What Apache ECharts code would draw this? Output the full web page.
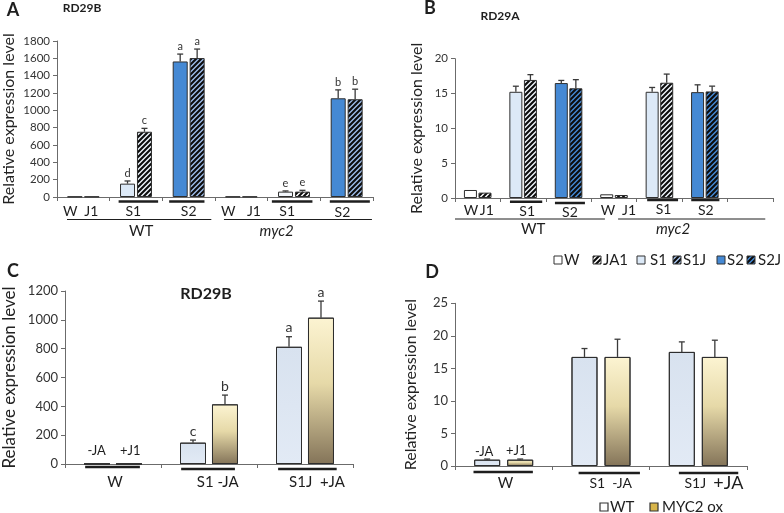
<!DOCTYPE html>
<html><head><meta charset="utf-8">
<script src="https://cdn.jsdelivr.net/npm/echarts@6/dist/echarts.min.js"></script>
<style>html,body{margin:0;padding:0;background:#fff}#c{width:784px;height:513px}</style>
</head><body><div id="c"></div>
<script>
// ---------------- DATA ----------------
// Panel A : RD29B (WT vs myc2)
const catsA = ['WT W/J1', 'WT S1', 'WT S2', 'myc2 W/J1', 'myc2 S1', 'myc2 S2'];
const aPlain = [4, 154, 1564, 4, 62, 1139];
const aPlainErr = [0, 31, 85, 0, 8, 97];
const aJA = [4, 753, 1603, 4, 62, 1128];
const aJAErr = [0, 39, 104, 0, 15, 116];
const aPlainLetters = ['', 'd', 'a', '', 'e', 'b'];
const aJALetters = ['', 'c', 'a', '', 'e', 'b'];
const ticksA = { min: 0, max: 1800, interval: 200 };

// Panel B : RD29A (WT vs myc2)
const catsB = ['WT W/J1', 'WT S1', 'WT S2', 'myc2 W/J1', 'myc2 S1', 'myc2 S2', ''];
const bPlain = [1.15, 15.25, 16.5, 0.53, 15.25, 15.2, null];
const bPlainErr = [0, 0.8, 0.38, 0, 0.62, 1.05, 0];
const bJA = [0.77, 16.95, 15.75, 0.43, 16.55, 15.3, null];
const bJAErr = [0, 0.76, 1.24, 0, 1.24, 0.76, 0];
const ticksB = { min: 0, max: 20, interval: 5 };
const legendB = ['W', 'JA1', 'S1', 'S1J', 'S2', 'S2J'];

// Panel C : RD29B (WT vs MYC2 ox)
const catsC = ['W', 'S1 -JA', 'S1J +JA'];
const cWT = [1, 148, 813];
const cWTErr = [0, 18, 70];
const cMYC = [1, 414, 1015];
const cMYCErr = [0, 64, 115];
const cWTLetters = ['', 'c', 'a'];
const cMYCLetters = ['', 'b', 'a'];
const ticksC = { min: 0, max: 1200, interval: 200 };

// Panel D : RD29A (WT vs MYC2 ox)
const catsD = ['W', 'S1 -JA', 'S1J +JA'];
const dWT = [0.97, 16.76, 17.53];
const dWTErr = [0.1, 1.29, 1.54];
const dMYC = [0.97, 16.76, 16.76];
const dMYCErr = [0.1, 2.72, 2.57];
const ticksD = { min: 0, max: 25, interval: 5 };
const legendD = ['WT', 'MYC2 ox'];

// ---------------- STYLE ----------------
const FONT = 'Lato, "Liberation Sans", sans-serif';
function hatch(bg) {
  const c = document.createElement('canvas'); c.width = c.height = 5;
  const g = c.getContext('2d');
  g.fillStyle = bg; g.fillRect(0, 0, 5, 5);
  g.strokeStyle = '#0c0c0c'; g.lineWidth = 2.1; g.beginPath();
  g.moveTo(-1, 6); g.lineTo(6, -1);
  g.moveTo(-1, 1); g.lineTo(1, -1);
  g.moveTo(4, 6); g.lineTo(6, 4);
  g.stroke();
  return { image: c, repeat: 'repeat' };
}
const WHITE = '#ffffff', LBLUE = '#dce9f7', BLUE = '#4589d4';
const gold = { type: 'linear', x: 0, y: 0, x2: 0, y2: 1, colorStops: [
  { offset: 0, color: '#fcf4d2' }, { offset: 0.45, color: '#e6d9a8' }, { offset: 1, color: '#847459' }] };
const wtFill = { type: 'linear', x: 0, y: 0, x2: 0, y2: 1, colorStops: [
  { offset: 0, color: '#d8e2ef' }, { offset: 1, color: '#e2eaf5' }] };
const fillA0 = [WHITE, LBLUE, BLUE, WHITE, '#f3f7fc', BLUE];
const fillA1 = [hatch('#fff'), hatch('#eef4fb'), hatch('#9dbce9'), hatch('#fff'), hatch('#fff'), hatch('#9dbce9')];
const fillB0 = [WHITE, LBLUE, BLUE, WHITE, LBLUE, BLUE, WHITE];
const fillB1 = [hatch('#fff'), hatch('#f0f5fb'), hatch(BLUE), hatch('#fff'), hatch('#f0f5fb'), hatch(BLUE), WHITE];
const legendFillB = [WHITE, hatch('#fff'), LBLUE, hatch('#a9c6ee'), BLUE, hatch(BLUE)];

const panelsCfg = [
  { left: 55, top: 41, width: 318, height: 156, bw: 15, gap: 0.13, tickFont: 11.5, nameGap: 40, nameSize: 16 },
  { left: 455, top: 58.7, width: 318, height: 139.3, bw: 13, gap: 0.12, tickFont: 11.5, nameGap: 30, nameSize: 16 },
  { left: 65, top: 291, width: 288, height: 173, bw: 26, gap: 0.23, tickFont: 13, nameGap: 47, nameSize: 17 },
  { left: 455, top: 303.3, width: 292, height: 162.7, bw: 26, gap: 0.27, tickFont: 13, nameGap: 36, nameSize: 16 }
];
const cats = [catsA, catsB, catsC, catsD];
const ticks = [ticksA, ticksB, ticksC, ticksD];

const chart = echarts.init(document.getElementById('c'), null, { renderer: 'canvas' });

const grids = [], xAxes = [], yAxes = [], series = [];
panelsCfg.forEach((p, i) => {
  grids.push({ left: p.left, top: p.top, width: p.width, height: p.height, containLabel: false });
  xAxes.push({ type: 'category', gridIndex: i, data: cats[i], boundaryGap: true,
    axisLine: { lineStyle: { color: '#6b6b6b', width: 1 } },
    axisTick: { show: true, interval: 0, length: 4, lineStyle: { color: '#6b6b6b' } },
    axisLabel: { show: false }, splitLine: { show: false } });
  yAxes.push({ type: 'value', gridIndex: i, min: ticks[i].min, max: ticks[i].max, interval: ticks[i].interval,
    name: 'Relative expression level', nameLocation: 'middle', nameRotate: 90, nameGap: p.nameGap,
    nameTextStyle: { fontFamily: FONT, fontSize: p.nameSize, color: '#222' },
    axisLine: { show: true, lineStyle: { color: '#6b6b6b', width: 1 } },
    axisTick: { show: true, length: 4, lineStyle: { color: '#6b6b6b' } },
    axisLabel: { fontFamily: FONT, fontSize: p.tickFont, color: '#333', margin: 7, formatter: v => String(v) },
    splitLine: { show: false } });
});

function barSeries(ax, vals, fills, p) {
  return { type: 'bar', xAxisIndex: ax, yAxisIndex: ax, barWidth: p.bw, barGap: Math.round(p.gap * 100) + '%',
    data: vals.map((v, k) => ({ value: v, itemStyle: { color: fills[k] } })),
    itemStyle: { borderColor: '#2e2e2e', borderWidth: 1 }, silent: true, z: 2 };
}
function errSeries(ax, vals, errs, letters, side, p, letterSize) {
  const off = side * p.bw * (1 + p.gap) / 2;
  return { type: 'custom', xAxisIndex: ax, yAxisIndex: ax, z: 5, silent: true, clip: false,
    data: vals.map((v, k) => [k, v == null ? 0 : v, errs[k] || 0]),
    renderItem: function (params, api) {
      const k = api.value(0), v = api.value(1), e = api.value(2);
      const base = api.coord([k, v]);
      const top = api.coord([k, v + e]);
      const cx = base[0] + off;
      const ch = [];
      if (e > 0 && top[1] < base[1] - 0.5) {
        ch.push({ type: 'line', shape: { x1: cx, y1: base[1], x2: cx, y2: top[1] }, style: { stroke: '#3a3a3a', lineWidth: 1.3 } });
        ch.push({ type: 'line', shape: { x1: cx - 3, y1: top[1], x2: cx + 3, y2: top[1] }, style: { stroke: '#3a3a3a', lineWidth: 1.3 } });
      }
      const L = letters ? letters[params.dataIndex] : '';
      if (L) ch.push({ type: 'text', x: cx, y: top[1] - 2,
        style: { text: L, fill: '#333', font: letterSize + 'px ' + FONT, align: 'center', verticalAlign: 'bottom', textAlign: 'center', textVerticalAlign: 'bottom' } });
      return { type: 'group', children: ch };
    } };
}
const P = panelsCfg;
const goldArr = [gold, gold, gold], wtArr = [wtFill, wtFill, wtFill];
series.push(barSeries(0, aPlain, fillA0, P[0]), barSeries(0, aJA, fillA1, P[0]));
series.push(barSeries(1, bPlain, fillB0, P[1]), barSeries(1, bJA, fillB1, P[1]));
series.push(barSeries(2, cWT, wtArr, P[2]), barSeries(2, cMYC, goldArr, P[2]));
series.push(barSeries(3, dWT, wtArr, P[3]), barSeries(3, dMYC, goldArr, P[3]));
series.push(errSeries(0, aPlain, aPlainErr, aPlainLetters, -1, P[0], 11), errSeries(0, aJA, aJAErr, aJALetters, 1, P[0], 11));
series.push(errSeries(1, bPlain, bPlainErr, null, -1, P[1], 11), errSeries(1, bJA, bJAErr, null, 1, P[1], 11));
series.push(errSeries(2, cWT, cWTErr, cWTLetters, -1, P[2], 14), errSeries(2, cMYC, cMYCErr, cMYCLetters, 1, P[2], 14));
series.push(errSeries(3, dWT, dWTErr, null, -1, P[3], 13), errSeries(3, dMYC, dMYCErr, null, 1, P[3], 13));

chart.setOption({ backgroundColor: '#ffffff', animation: false, grid: grids, xAxis: xAxes, yAxis: yAxes, series: series });

// ---------------- ANNOTATIONS (layout) ----------------
const G = [];
function X(ax, f) { const a = chart.convertToPixel({ xAxisIndex: ax }, 0), b = chart.convertToPixel({ xAxisIndex: ax }, 1); return a + f * (b - a); }
function Y0(ax) { return chart.convertToPixel({ yAxisIndex: ax }, 0); }
function text(x, y, t, size, o) {
  o = o || {};
  G.push({ type: 'text', x: x, y: y, silent: true, z: 10,
    style: Object.assign({ text: t, fill: '#1e1e1e', font: (o.italic ? 'italic ' : '') + (o.bold ? 'bold ' : '') + size + 'px ' + FONT,
      align: o.align || 'center', verticalAlign: 'middle', textAlign: o.align || 'center', textVerticalAlign: 'middle' }, o.extra || {}) });
}
function line(x1, y1, x2, y2, w) { G.push({ type: 'line', silent: true, z: 10, shape: { x1, y1, x2, y2 }, style: { stroke: '#1e1e1e', lineWidth: w } }); }

const notes = [
  { ax: 0,
    texts: [[-0.25, 14, 'W', 14], [0.15, 14, 'J1', 14], [0.95, 14, 'S1', 14], [2.0, 14, 'S2', 14], [2.75, 14, 'W', 14], [3.24, 14, 'J1', 14], [3.87, 14, 'S1', 14], [4.92, 15, 'S2', 14], [1.10, 34, 'WT', 15], [3.67, 34, 'myc2', 15, { italic: true }]],
    lines: [[0.67, 1.42, 4.5, 2.5], [1.63, 2.3, 4.5, 2.5], [3.58, 4.35, 4.5, 2.5], [4.68, 5.44, 4.5, 2.5], [-0.31, 2.43, 22.5, 1], [2.67, 5.48, 22.5, 1]] },
  { ax: 1,
    texts: [[-0.15, 12.5, 'W', 14], [0.2, 12.5, 'J1', 14], [1.09, 13, 'S1', 14], [2.03, 14, 'S2', 14], [2.87, 12.5, 'W', 14], [3.33, 12.5, 'J1', 14], [4.09, 11, 'S1', 14], [5.02, 12.5, 'S2', 14], [1.22, 31, 'WT', 15], [4.30, 31, 'myc2', 15, { italic: true }]],
    lines: [[0.71, 1.42, 3.7, 2.5], [1.70, 2.36, 5, 2.5], [3.73, 4.41, 2, 2.5], [4.70, 5.32, 2, 2.5], [-0.5, 2.8, 21, 1], [3.09, 6.33, 21, 1]] },
  { ax: 2,
    texts: [[-0.17, -13, '-JA', 13], [0.18, -13, '+J1', 13], [0.02, 18, 'W', 15], [1.09, 18, 'S1 -JA', 15], [2.125, 18, 'S1J  +JA', 15]],
    lines: [[-0.29, 0.28, 3, 2.5], [0.71, 1.27, 5, 2.5], [1.72, 2.33, 5, 2.5]] },
  { ax: 3,
    texts: [[-0.2, -14, '-JA', 13], [0.13, -15, '+J1', 13], [0.02, 17, 'W', 15], [1.10, 17, 'S1  -JA', 14],
      [2.16, 17, '{a|S1J}  {b|+JA}', 14, { extra: { rich: { a: { font: '14px ' + FONT, fill: '#1e1e1e' }, b: { font: '18px ' + FONT, fill: '#1e1e1e' } } } }]],
    lines: [[-0.31, 0.30, 6, 2.5], [0.77, 1.40, 7, 2.5], [1.80, 2.41, 7, 2.5]] }
];
notes.forEach(n => {
  const y0 = Y0(n.ax);
  n.texts.forEach(t => text(X(n.ax, t[0]), y0 + t[1], t[2], t[3], t[4]));
  n.lines.forEach(l => line(X(n.ax, l[0]), y0 + l[2], X(n.ax, l[1]), y0 + l[2], l[3]));
});

// panel letters and titles
[['A', 13, 10], ['B', 430, 8], ['C', 13, 271], ['D', 432, 272]].forEach(t => text(t[1], t[2], t[0], 18, { bold: true }));
text(82, 8, 'RD29B', 12, { bold: true });
text(500, 16, 'RD29A', 12, { bold: true });
text(206, 294, 'RD29B', 16, { bold: true });

// legend B
const legBoxX = [554, 593, 637, 673, 717, 747];
const legTxtX = [564, 603, 650, 683, 727, 758];
legendB.forEach((name, k) => {
  G.push({ type: 'rect', silent: true, z: 10, shape: { x: legBoxX[k], y: 256, width: 8, height: 8 }, style: { fill: legendFillB[k], stroke: '#333', lineWidth: 1 } });
  text(legTxtX[k], 260.5, name, 15, { align: 'left' });
});
// legend D
const legDFill = [WHITE, '#d8b54a'];
const legDBox = [600, 650], legDTxt = [610, 662];
legendD.forEach((name, k) => {
  G.push({ type: 'rect', silent: true, z: 10, shape: { x: legDBox[k], y: 503, width: 8, height: 8 }, style: { fill: legDFill[k], stroke: '#333', lineWidth: 1.2 } });
  text(legDTxt[k], 507.5, name, 15, { align: 'left' });
});

chart.setOption({ graphic: { elements: G } });
</script>
</body></html>
